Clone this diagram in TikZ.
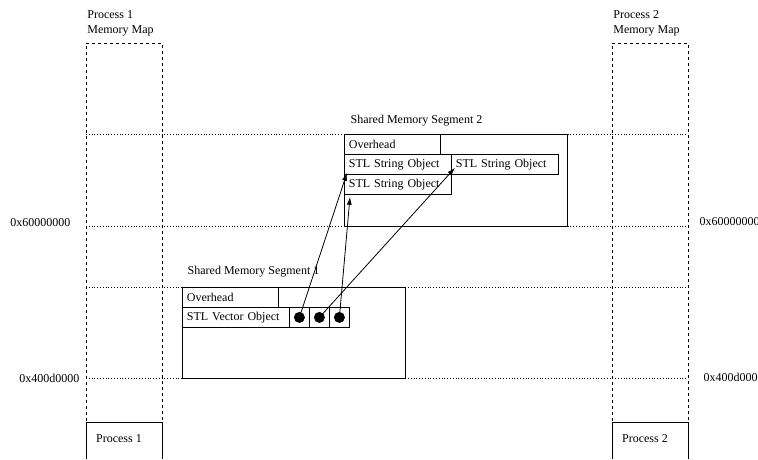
\documentclass[tikz,border=0pt]{standalone}
\usepackage{fontspec}
\setmainfont{Liberation Serif}
\usetikzlibrary{arrows.meta}
\begin{document}
\begin{tikzpicture}[x=1pt,y=-1pt,line width=0.8pt,>={Latex[length=8pt,width=5pt]},
    every node/.style={font=\fontsize{12}{15}\selectfont},
    cell/.style={draw,anchor=north west,inner xsep=4.5pt,inner ysep=0pt,minimum height=20pt,align=left},
    segbox/.style={draw,anchor=north west,inner sep=0pt,minimum width=223pt},
    mapbox/.style={draw,dashed,anchor=north west,inner sep=0pt,minimum width=76pt,minimum height=379pt},
    dot/.style={circle,fill,inner sep=0pt,minimum size=11pt},
    ptr/.style={->,line width=0.8pt}]
    \useasboundingbox (0,0) rectangle (758,459);
    \clip (0,0) rectangle (758,459);

    % address lines
    \foreach \y in {134,226,287,378}
      \draw [dotted] (86,\y) -- (688,\y);
    \node [anchor=east] (a1l) at (74,223) {0x60000000};
    \node [anchor=east] (a2l) at (83,378) {0x400d0000};
    \node [anchor=west] (a1r) at (696,222) {0x60000000};
    \node [anchor=west] (a2r) at (700,377) {0x400d0000};

    % process 1
    \node [anchor=north west,align=left,inner sep=0pt] (hdr1) at (87,10) {Process 1\\Memory Map};
    \node [mapbox] (map1) at (86,43) {};
    \draw (86,459) |- (162,422) -- (162,459);
    \node (p1) at (119,439) {Process 1};

    % process 2
    \node [anchor=north west,align=left,inner sep=0pt] (hdr2) at (613,10) {Process 2\\Memory Map};
    \node [mapbox] (map2) at (612,43) {};
    \draw (612,459) |- (688,422) -- (688,459);
    \node (p2) at (645,439) {Process 2};

    % segment 2
    \node [anchor=west] (ttl2) at (347,121) {Shared Memory Segment 2};
    \node [segbox,minimum height=92pt] (seg2) at (344,134) {};
    \node [cell,text width=87pt] (ovh2) at (344,134) {Overhead};
    \node [cell,text width=98pt] (str1) at (344,154) {STL String Object};
    \node [cell,text width=98pt] (str2) at (451,154) {STL String Object};
    \node [cell,text width=98pt] (str3) at (344,174) {STL String Object};

    % segment 1
    \node [anchor=west] (ttl1) at (184,272) {Shared Memory Segment 1};
    \node [segbox,minimum height=91pt] (seg1) at (182,287) {};
    \node [cell,text width=87pt] (ovh1) at (182,287) {Overhead};
    \node [cell,text width=98pt] (vec) at (182,307) {STL Vector Object};
    \foreach \i/\x in {1/289,2/309,3/329} {
      \node [cell,minimum width=20pt] (c\i) at (\x,307) {};
      \node [dot] (d\i) at (c\i.center) {};
    }

    % pointers
    \coordinate (t1) at ([shift={(3,-2)}]str1.south west);
    \coordinate (t2) at ([shift={(4,-7)}]str2.south west);
    \coordinate (t3) at ([shift={(6,2)}]str3.south west);
    \draw [ptr] (d1.center) -- (t1);
    \draw [ptr] (d2.center) -- (t2);
    \draw [ptr] (d3.center) -- (t3);
\end{tikzpicture}
\end{document}
